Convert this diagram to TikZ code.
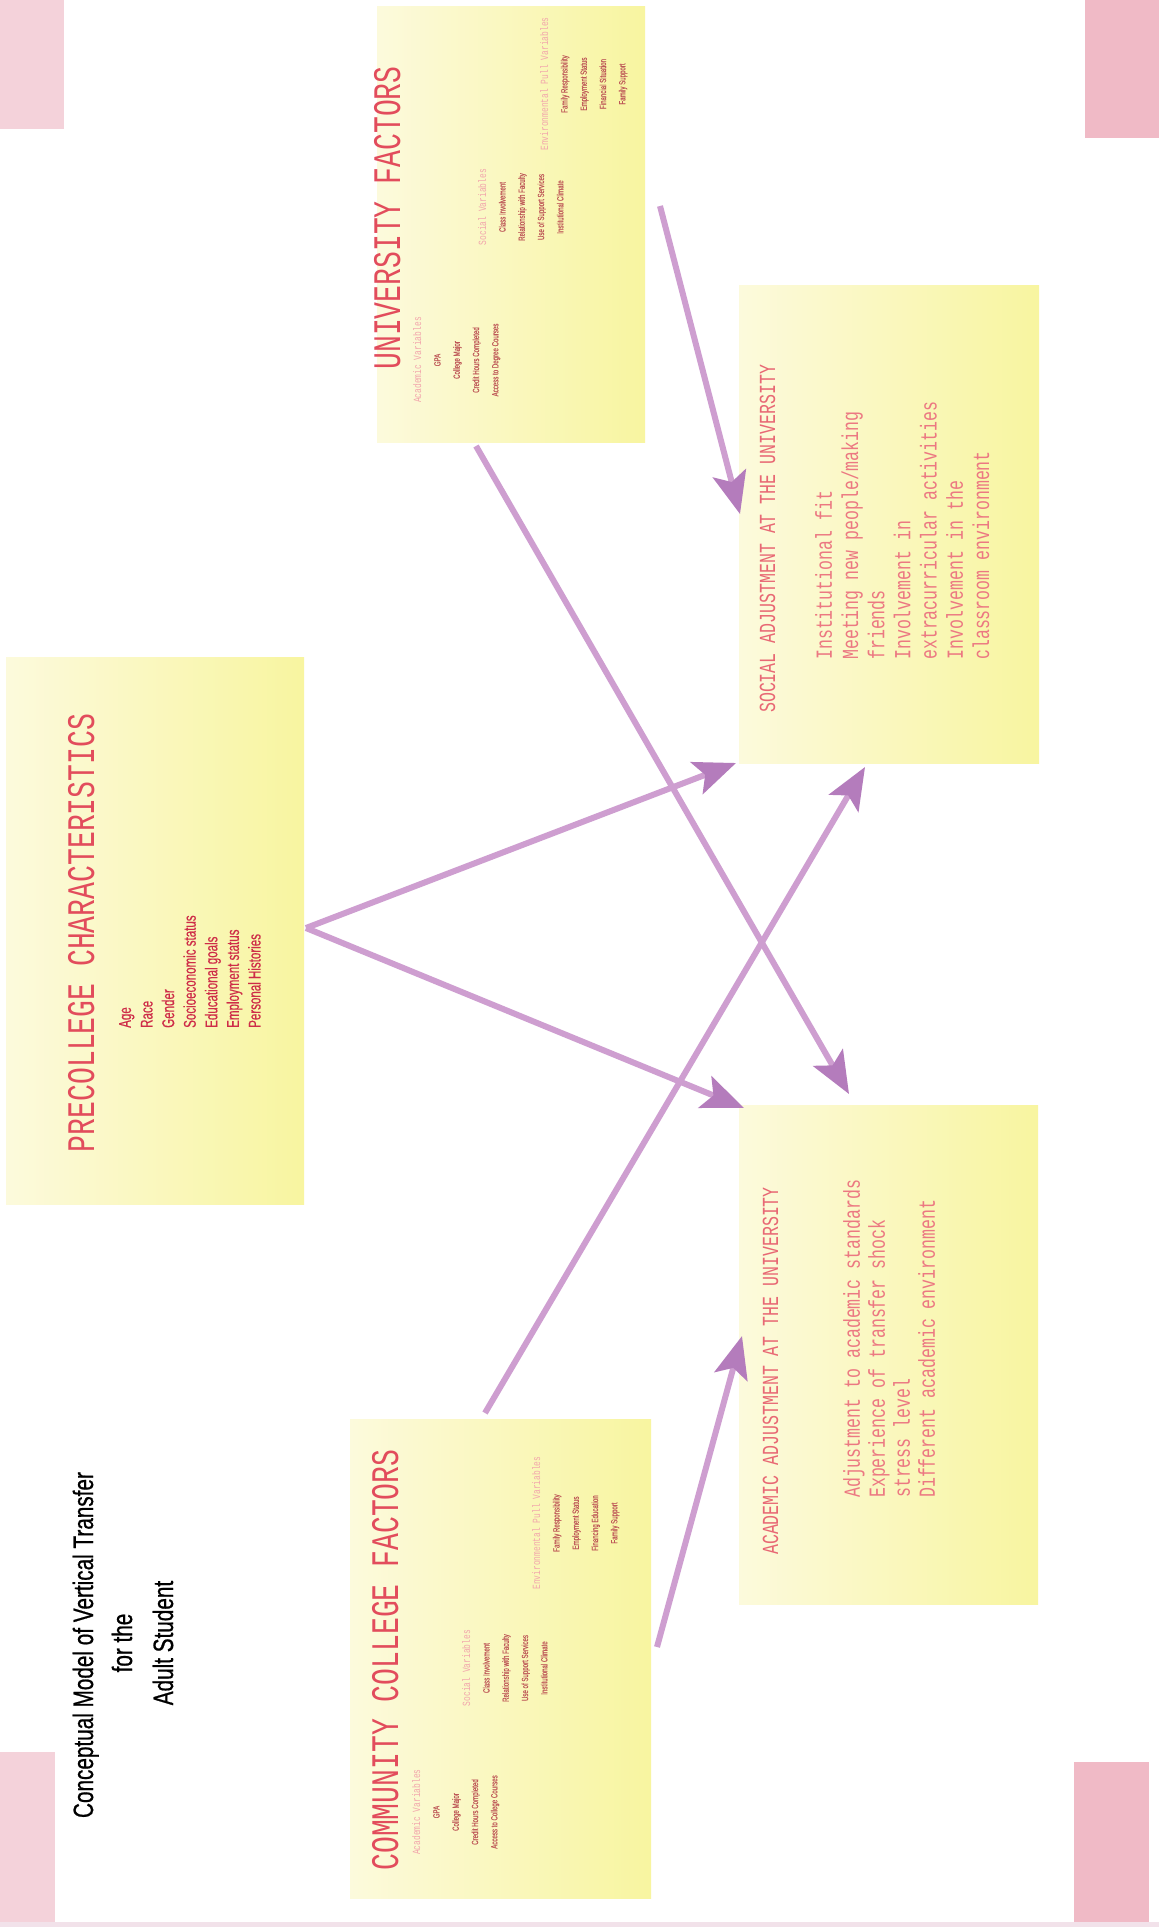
\documentclass[tikz,border=0pt]{standalone}
\usepackage{fontspec}
\setmainfont{Liberation Sans}
\newfontfamily\titlefont[FakeStretch=0.72]{Liberation Mono}
\newfontfamily\monofont[FakeStretch=0.72]{Liberation Mono}
\newfontfamily\narrowfont[FakeStretch=0.72]{Liberation Sans}
\newfontfamily\narrowbold[FakeStretch=0.68,FakeBold=0.5]{Liberation Sans}
\newfontfamily\capfont[FakeStretch=0.74,FakeBold=0.7]{Liberation Sans}
\usetikzlibrary{arrows.meta}
\definecolor{boxL}{RGB}{252,250,220}
\definecolor{boxR}{RGB}{248,245,160}
\definecolor{pinkA}{RGB}{244,210,218}
\definecolor{pinkB}{RGB}{240,186,198}
\definecolor{pinkC}{RGB}{242,226,234}
\definecolor{titleRed}{RGB}{226,76,92}
\definecolor{listRed}{RGB}{236,120,130}
\definecolor{headRed}{RGB}{232,104,116}
\definecolor{smallHead}{RGB}{242,165,172}
\definecolor{smallItem}{RGB}{190,88,88}
\definecolor{preRed}{RGB}{206,44,72}
\definecolor{arrowLine}{RGB}{206,158,208}
\definecolor{arrowHead}{RGB}{180,124,188}
\tikzset{
  ybox/.style={rectangle, inner sep=0pt, draw=none, left color=boxL, right color=boxR},
  pinkbox/.style={rectangle, inner sep=0pt, draw=none, anchor=north west},
  bigtitle/.style={rotate=90, anchor=base, inner sep=0pt, text=titleRed,
    font=\titlefont\fontsize{39}{42}\selectfont},
  subhead/.style={rotate=90, anchor=base west, inner sep=0pt, text=headRed,
    font=\monofont\fontsize{23}{26}\selectfont},
  biglist/.style={rotate=90, anchor=north west, inner sep=0pt, align=left, text=listRed},
  smallcol/.style={rotate=90, anchor=north, inner sep=0pt, align=center,
    font=\fontsize{9}{19.3}\selectfont},
  conn/.style={line width=6pt, draw=arrowLine,
    -{Stealth[length=42pt,width=34pt,inset=9pt,color=arrowHead]}},
}
\newcommand{\shd}[1]{{\color{smallHead}\monofont\fontsize{11}{19.3}\selectfont #1}}
\newcommand{\sit}[1]{{\color{smallItem}\narrowbold\fontsize{9}{19.3}\selectfont #1}}
\begin{document}
\begin{tikzpicture}[x=1pt,y=-1pt]
\useasboundingbox (0,0) rectangle (1159,1927);
\fill[white] (0,0) rectangle (1159,1927);
% corner decorations
\node[pinkbox, fill=pinkA, minimum width=64pt, minimum height=129pt] (ctl) at (0,0) {};
\node[pinkbox, fill=pinkB, minimum width=74pt, minimum height=138pt] (ctr) at (1085,0) {};
\node[pinkbox, fill=pinkA, minimum width=55pt, minimum height=175pt] (cbl) at (0,1752) {};
\node[pinkbox, fill=pinkB, minimum width=75pt, minimum height=165pt] (cbr) at (1074,1762) {};
\node[pinkbox, fill=pinkC, minimum width=1159pt, minimum height=5pt] (cbot) at (0,1922) {};

% boxes
\node[ybox, anchor=north west, minimum width=268pt, minimum height=436pt] (univ) at (377,6) {};
\node[ybox, anchor=north west, minimum width=298pt, minimum height=547pt] (pre) at (6,657) {};
\node[ybox, anchor=north west, minimum width=300pt, minimum height=478pt] (soc) at (739,285) {};
\node[ybox, anchor=north west, minimum width=299pt, minimum height=499pt] (acad) at (739,1105) {};
\node[ybox, anchor=north west, minimum width=301pt, minimum height=479pt] (comm) at (350,1419) {};

% title
\node[rotate=90, anchor=base, inner sep=0pt, font=\capfont\fontsize{28}{40}\selectfont] (t1) at (93,1645) {Conceptual Model of Vertical Transfer};
\node[rotate=90, anchor=base, inner sep=0pt, font=\capfont\fontsize{28}{40}\selectfont] (t2) at (132,1643) {for the};
\node[rotate=90, anchor=base, inner sep=0pt, font=\capfont\fontsize{28}{40}\selectfont] (t3) at (173,1643) {Adult Student};

% precollege
\node[bigtitle] (pretitle) at (94,933) {PRECOLLEGE CHARACTERISTICS};
\node[rotate=90, anchor=north west, inner sep=0pt, align=left, text=preRed,
  font=\narrowbold\fontsize{17}{21.6}\selectfont] (prelist) at (119,1028)
  {Age\\Race\\Gender\\Socioeconomic status\\Educational goals\\Employment status\\Personal Histories};

% university factors
\node[bigtitle] (univtitle) at (400,218) {UNIVERSITY FACTORS};
\node[smallcol] (u1) at (413,360) {\shd{Academic Variables}\\\sit{GPA}\\\sit{College Major}\\\sit{Credit Hours Completed}\\\sit{Access to Degree Courses}};
\node[smallcol] (u2) at (478,207) {\shd{Social Variables}\\\sit{Class Involvement}\\\sit{Relationship with Faculty}\\\sit{Use of Support Services}\\\sit{Institutional Climate}};
\node[smallcol] (u3) at (540,84) {\shd{Environmental Pull Variables}\\\sit{Family Responsibility}\\\sit{Employment Status}\\\sit{Financial Situation}\\\sit{Family Support}};

% community college factors
\node[bigtitle] (commtitle) at (398,1660) {COMMUNITY COLLEGE FACTORS};
\node[smallcol] (c1) at (412,1812) {\shd{Academic Variables}\\\sit{GPA}\\\sit{College Major}\\\sit{Credit Hours Completed}\\\sit{Access to College Courses}};
\node[smallcol] (c2) at (462,1668) {\shd{Social Variables}\\\sit{Class Involvement}\\\sit{Relationship with Faculty}\\\sit{Use of Support Services}\\\sit{Institutional Climate}};
\node[smallcol] (c3) at (532,1523) {\shd{Environmental Pull Variables}\\\sit{Family Responsibility}\\\sit{Employment Status}\\\sit{Financing Education}\\\sit{Family Support}};

% social adjustment
\node[subhead] (sochead) at (775,713) {SOCIAL ADJUSTMENT AT THE UNIVERSITY};
\node[biglist, font=\monofont\fontsize{23}{26.2}\selectfont] (soclist) at (815,660)
  {Institutional fit\\Meeting new people/making\\friends\\Involvement in\\extracurricular activities\\Involvement in the\\classroom environment};

% academic adjustment
\node[subhead] (acadhead) at (778,1555) {ACADEMIC ADJUSTMENT AT THE UNIVERSITY};
\node[biglist, font=\monofont\fontsize{23}{25}\selectfont] (acadlist) at (843,1498)
  {Adjustment to academic standards\\Experience of transfer shock\\stress level\\Different academic environment};

% connector end points
\coordinate (uS) at (660,206);
\coordinate (sT1) at (740,514);
\coordinate (uA) at (476,446);
\coordinate (aT1) at (849,1094);
\coordinate (pS) at (306,928);
\coordinate (sT2) at (736,763);
\coordinate (aT2) at (744,1108);
\coordinate (cS1) at (485,1413);
\coordinate (sT3) at (865,767);
\coordinate (cS2) at (657,1647);
\coordinate (aT3) at (742,1336);

\draw[conn] (uS) -- (sT1);
\draw[conn] (uA) -- (aT1);
\draw[conn] (pS) -- (sT2);
\draw[conn] (pS) -- (aT2);
\draw[conn] (cS1) -- (sT3);
\draw[conn] (cS2) -- (aT3);
\end{tikzpicture}
\end{document}
